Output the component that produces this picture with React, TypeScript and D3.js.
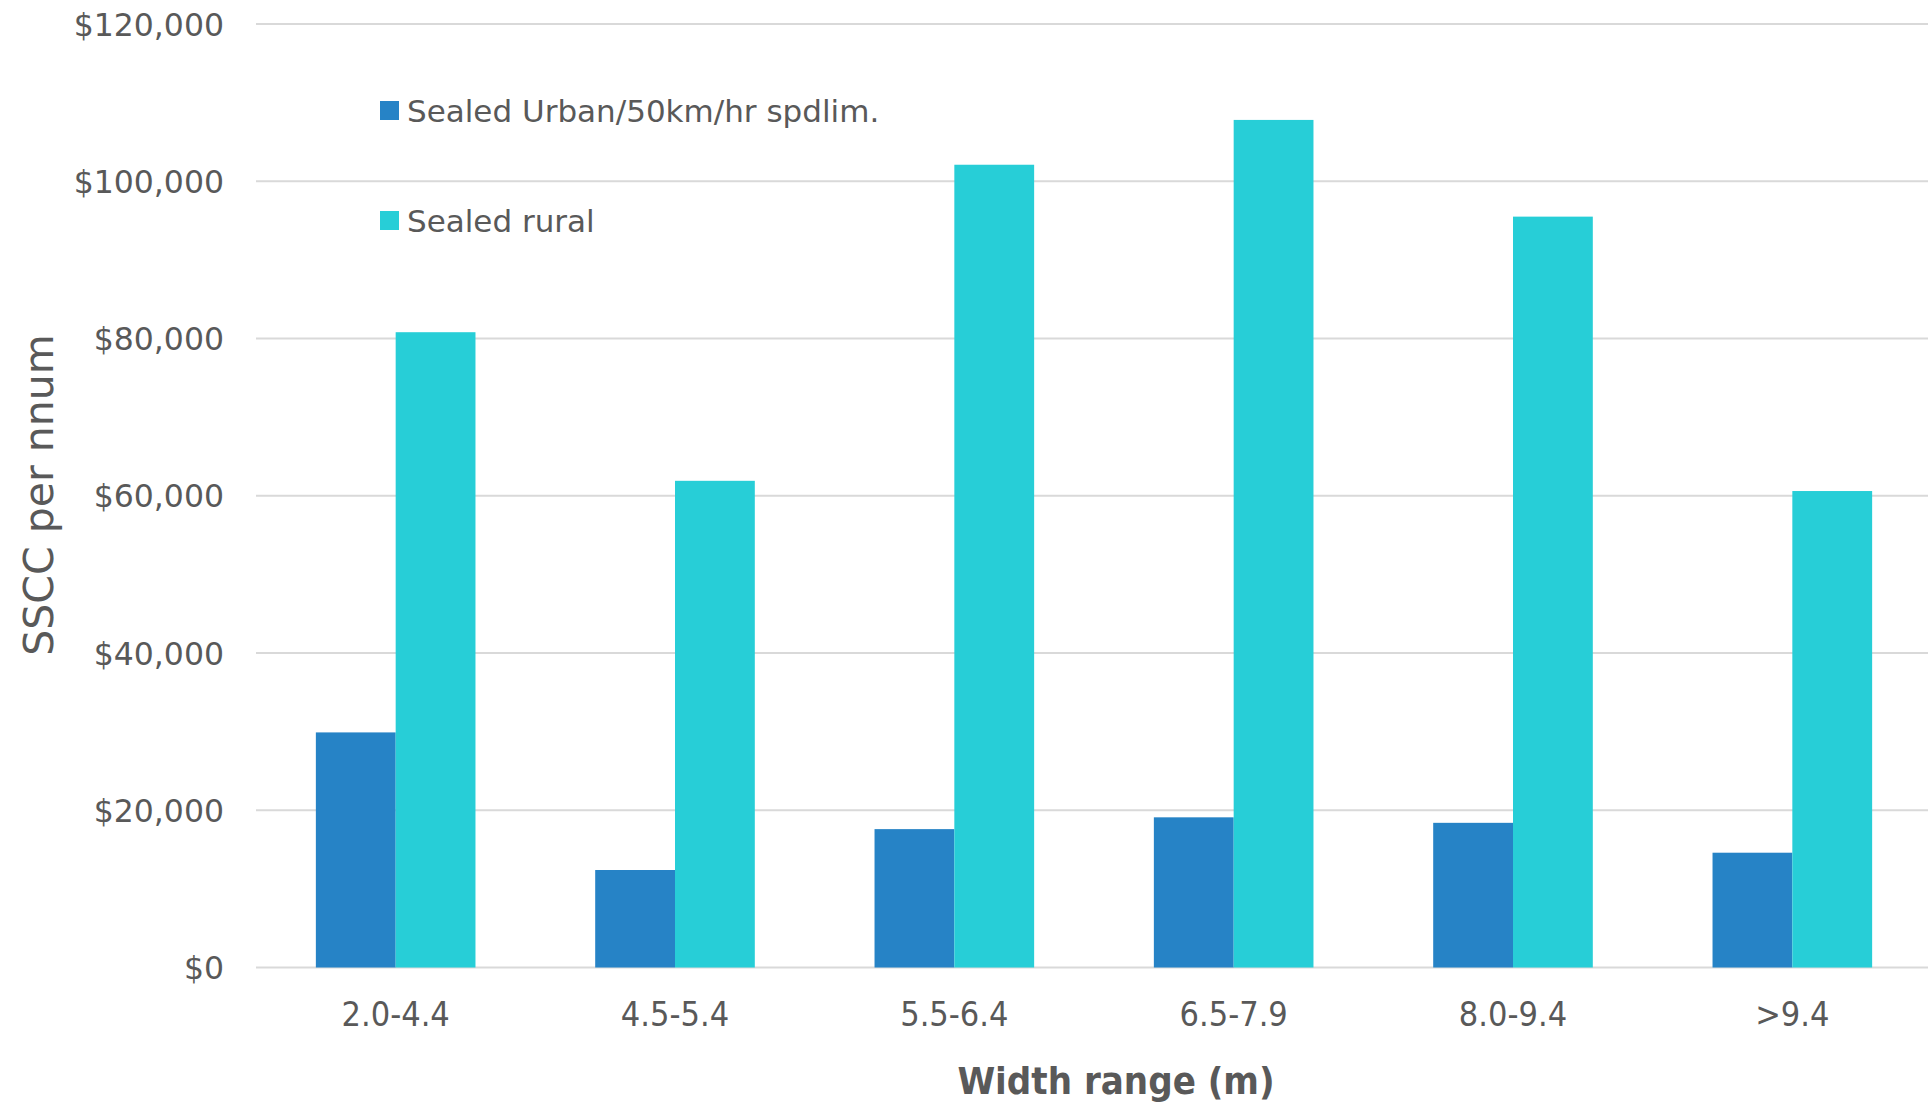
import React from "react";
import * as d3 from "d3";

const categories = ["2.0-4.4", "4.5-5.4", "5.5-6.4", "6.5-7.9", "8.0-9.4", ">9.4"];
const seriesNames = ["Sealed Urban/50km/hr spdlim.", "Sealed rural"];
const urbanValues = [29900, 12400, 17600, 19100, 18400, 14600];
const ruralValues = [80800, 61900, 102100, 107800, 95500, 60600];
const yTicks = [0, 20000, 40000, 60000, 80000, 100000, 120000];
const colors = ["#2683C6", "#27CED7"];

const W = 1928;
const H = 1105;
const plot = { left: 256, right: 1932, top: 24, bottom: 967.5 };

export default function App() {
  const x0 = d3
    .scaleBand<string>()
    .domain(categories)
    .range([plot.left, plot.right])
    .paddingInner(0.4286)
    .paddingOuter(0.2143);
  const x1 = d3.scaleBand<number>().domain([0, 1]).range([0, x0.bandwidth()]).padding(0);
  const y = d3.scaleLinear().domain([0, 120000]).range([plot.bottom, plot.top]);
  const fmt = (v: number) => "$" + d3.format(",")(v);
  const series = [urbanValues, ruralValues];
  const labelColor = "#595959";
  const sans = "'DejaVu Sans', sans-serif";

  return (
    <svg
      width={W}
      height={H}
      viewBox={`0 0 ${W} ${H}`}
      style={{ position: "absolute", left: 0, top: 0, background: "#fff" }}
    >
      {yTicks.map((t) => (
        <g key={t}>
          <line x1={plot.left} x2={W} y1={y(t)} y2={y(t)} stroke="#D9D9D9" strokeWidth={2} />
          <text
            x={224}
            y={y(t) + 11.5}
            textAnchor="end"
            fontFamily={sans}
            fontSize={31.5}
            fill={labelColor}
          >
            {fmt(t)}
          </text>
        </g>
      ))}
      {categories.map((c, i) => (
        <g key={c} transform={`translate(${x0(c)},0)`}>
          {series.map((vals, s) => (
            <rect
              key={s}
              x={x1(s)}
              width={x1.bandwidth()}
              y={y(vals[i])}
              height={y(0) - y(vals[i])}
              fill={colors[s]}
            />
          ))}
        </g>
      ))}
      {categories.map((c) => (
        <text
          key={c}
          x={(x0(c) as number) + x0.bandwidth() / 2}
          y={1026}
          textAnchor="middle"
          fontFamily="'Liberation Sans Narrow', 'DejaVu Sans Condensed', sans-serif"
          fontSize={34}
          fill={labelColor}
        >
          {c}
        </text>
      ))}
      <text
        x={1116}
        y={1094}
        textAnchor="middle"
        fontFamily="'DejaVu Sans Condensed', 'DejaVu Sans', sans-serif"
        fontStretch="condensed"
        fontWeight="bold"
        fontSize={38}
        fill={labelColor}
      >
        Width range (m)
      </text>
      <text
        transform="translate(53,495) rotate(-90)"
        textAnchor="middle"
        fontFamily={sans}
        fontSize={41}
        fill={labelColor}
      >
        SSCC per nnum
      </text>
      {seriesNames.map((n, i) => (
        <g key={n} transform={`translate(380,${101 + i * 110})`}>
          <rect width={19} height={19} fill={colors[i]} />
          <text x={27} y={20.5} fontFamily={sans} fontSize={31} fill={labelColor}>
            {n}
          </text>
        </g>
      ))}
    </svg>
  );
}
